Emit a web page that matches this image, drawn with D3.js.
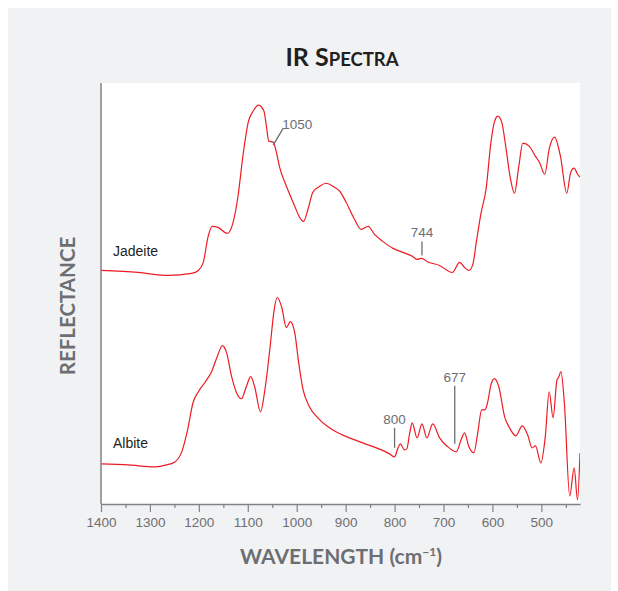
<!DOCTYPE html>
<html>
<head>
<meta charset="utf-8">
<script src="https://cdn.jsdelivr.net/npm/d3@7/dist/d3.min.js"></script>
<style>
  html, body { margin: 0; padding: 0; background: #fff; }
  svg { display: block; }
</style>
</head>
<body>
<svg id="chart" width="618" height="591"></svg>
<script>
// wavenumbers (cm-1) and reflectance (arbitrary units)
var jadeiteWave = [1400, 1324, 1263, 1215, 1201, 1191, 1181, 1173, 1161, 1142, 1130, 1120, 1110, 1099, 1089, 1078, 1067, 1062, 1057, 1048, 1042, 1035, 1021, 1004, 994, 986, 977, 967, 953, 940, 923, 912, 899, 882, 868, 854, 841, 824, 803, 783, 763, 754, 744, 734, 708, 682, 667, 657, 648, 640, 633, 623, 613, 603, 596, 589, 581, 572, 563, 555, 546, 538, 525, 511, 504, 493, 484, 473, 461, 448, 440, 433, 426, 421];
var jadeiteRefl = [23.3, 23.1, 22.8, 23.0, 23.3, 24.1, 26.7, 27.7, 27.6, 27.0, 28.1, 30.7, 34.7, 38.1, 39.2, 39.8, 39.2, 37.7, 36.2, 36.1, 35.2, 33.6, 31.7, 29.7, 28.6, 28.2, 29.4, 31.1, 31.7, 32.0, 31.6, 31.2, 30.1, 28.4, 27.4, 27.7, 26.9, 26.2, 25.5, 25.1, 24.7, 24.4, 24.5, 24.2, 23.8, 23.1, 24.1, 23.6, 23.3, 23.9, 26.1, 29.1, 31.4, 36.1, 38.1, 38.7, 38.1, 35.4, 32.4, 31.0, 33.7, 36.0, 35.7, 34.6, 34.1, 32.9, 35.4, 36.6, 34.7, 31.0, 33.1, 33.5, 32.9, 32.6];

var albiteWave = [1400, 1344, 1290, 1266, 1249, 1235, 1223, 1212, 1201, 1188, 1174, 1161, 1152, 1144, 1133, 1123, 1113, 1103, 1094, 1086, 1074, 1065, 1055, 1046, 1040, 1031, 1021, 1013, 1004, 996, 987, 974, 957, 936, 916, 902, 871, 827, 810, 800, 793, 788, 780, 775, 769, 764, 754, 744, 734, 722, 708, 691, 674, 664, 657, 648, 638, 630, 622, 615, 610, 603, 596, 587, 575, 565, 552, 539, 528, 519, 512, 501, 492, 484, 476, 468, 465, 460, 453, 442, 433, 426, 421];
var albiteRefl = [4.0, 3.9, 3.7, 3.9, 4.2, 5.2, 7.4, 10.1, 11.2, 12.1, 13.2, 14.9, 15.8, 15.2, 12.7, 11.1, 10.5, 11.7, 12.7, 11.7, 9.2, 11.4, 15.4, 19.4, 20.6, 19.7, 17.6, 18.2, 17.1, 14.1, 11.4, 9.7, 8.6, 7.7, 7.1, 6.8, 6.2, 5.4, 5.0, 4.7, 5.6, 6.0, 5.4, 5.5, 7.1, 8.1, 6.6, 8.0, 6.6, 8.0, 6.6, 5.7, 5.2, 6.4, 7.1, 5.7, 5.1, 7.1, 9.4, 9.4, 10.1, 11.9, 12.5, 11.7, 8.7, 7.6, 6.8, 7.8, 6.9, 5.6, 5.8, 4.1, 6.7, 11.2, 8.6, 12.4, 12.6, 13.2, 10.1, 0.8, 3.6, 0.4, 5.1];

var tickWaves = [1400, 1300, 1200, 1100, 1000, 900, 800, 700, 600, 500];
var minorWaves = [1350, 1250, 1150, 1050, 950, 850, 750, 650, 550, 450];

// peak markers
var markWave = [1050, 744, 800, 677];
var markLabel = ["1050", "744", "800", "677"];

var svg = d3.select("#chart");

var margin = {top: 83, right: 38, bottom: 87, left: 101},
    width = 618 - margin.left - margin.right,
    height = 591 - margin.top - margin.bottom;

var labelFont = "'Liberation Sans', Arial, sans-serif";
var headFont = "Lato, 'Open Sans', sans-serif";

// grey panel
svg.append("rect")
    .attr("x", 8).attr("y", 8)
    .attr("width", 603).attr("height", 583)
    .attr("fill", "#f1f2f4");

var g = svg.append("g")
    .attr("transform", "translate(" + margin.left + "," + margin.top + ")");

g.append("rect")
    .attr("width", width).attr("height", height)
    .attr("fill", "#fff");

var x = d3.scaleLinear().domain([1400, 421]).range([0, width]);
var y = d3.scaleLinear().domain([0, 42]).range([height, 0]);

var line = d3.line()
    .x(function(d) { return x(d[0]); })
    .y(function(d) { return y(d[1]); })
    .curve(d3.curveMonotoneX);

var jadeite = d3.zip(jadeiteWave, jadeiteRefl);
var albite = d3.zip(albiteWave, albiteRefl);

g.append("clipPath").attr("id", "clip")
  .append("rect").attr("width", width).attr("height", height + 2).attr("y", -2);

[jadeite, albite].forEach(function(s) {
  g.append("path")
      .datum(s)
      .attr("clip-path", "url(#clip)")
      .attr("fill", "none")
      .attr("stroke", "#ed1c24")
      .attr("stroke-width", 1.2)
      .attr("stroke-linejoin", "round")
      .attr("d", line);
});

// axes
var xAxis = g.append("g")
    .attr("transform", "translate(0," + height + ")")
    .call(d3.axisBottom(x).tickValues(tickWaves).tickSize(8).tickSizeOuter(0).tickFormat(d3.format("d")));

xAxis.selectAll(".tick text")
    .attr("y", 13)
    .attr("fill", "#6d6e71")
    .style("font-family", labelFont)
    .style("font-size", "13.5px");

g.append("g")
    .attr("transform", "translate(0," + height + ")")
    .call(d3.axisBottom(x).tickValues(minorWaves).tickSize(4).tickSizeOuter(0).tickFormat(""))
    .select(".domain").remove();

g.selectAll(".tick line").attr("stroke", "#808285").attr("stroke-width", 1.2);
xAxis.select(".domain").attr("stroke", "#808285").attr("stroke-width", 1.5);

g.append("line")
    .attr("x1", 0).attr("x2", 0)
    .attr("y1", 0).attr("y2", height)
    .attr("stroke", "#808285")
    .attr("stroke-width", 1.5);

// series names
g.append("text").attr("x", 12).attr("y", y(23.3) - 14)
    .attr("fill", "#231f20").style("font-family", labelFont).style("font-size", "14px")
    .text("Jadeite");
g.append("text").attr("x", 12).attr("y", y(4.0) - 16)
    .attr("fill", "#231f20").style("font-family", labelFont).style("font-size", "14px")
    .text("Albite");

// peak annotations
var markFill = "#6d6e71";

// 1050 on jadeite: slanted leader
g.append("line")
    .attr("x1", x(markWave[0]) + 1).attr("y1", y(35.8))
    .attr("x2", x(markWave[0]) + 11).attr("y2", y(37.5))
    .attr("stroke", markFill).attr("stroke-width", 1.3);
g.append("text")
    .attr("x", x(markWave[0]) + 10).attr("y", y(37.4))
    .attr("fill", markFill).style("font-family", labelFont).style("font-size", "13.5px")
    .text(markLabel[0]);

// vertical markers: [index, bottom, top]
[[1, 24.8, 26.2], [2, 5.6, 7.6], [3, 6.0, 11.8]].forEach(function(m) {
  var w = markWave[m[0]];
  g.append("line")
      .attr("x1", x(w)).attr("x2", x(w))
      .attr("y1", y(m[1])).attr("y2", y(m[2]))
      .attr("stroke", markFill).attr("stroke-width", 1.3);
  g.append("text")
      .attr("x", x(w)).attr("y", y(m[2]) - 4)
      .attr("text-anchor", "middle")
      .attr("fill", markFill).style("font-family", labelFont).style("font-size", "13.5px")
      .text(markLabel[m[0]]);
});

// title
var title = svg.append("text")
    .attr("x", 342).attr("y", 66)
    .attr("text-anchor", "middle")
    .attr("fill", "#231f20")
    .style("font-family", headFont)
    .style("font-weight", "bold");
title.append("tspan").style("font-size", "25px").text("IR S");
title.append("tspan").style("font-size", "18.5px").text("PECTRA");

// axis titles
var xt = svg.append("text")
    .attr("x", 341).attr("y", 564)
    .attr("text-anchor", "middle")
    .attr("fill", "#6d6e71")
    .style("font-family", headFont)
    .style("font-weight", "bold")
    .style("font-size", "21px");
xt.append("tspan").text("WAVELENGTH (cm");
xt.append("tspan").attr("dy", -8).style("font-size", "12px").text("\u2212" + "1");
xt.append("tspan").attr("dy", 8).text(")");

svg.append("text")
    .attr("transform", "translate(75,306) rotate(-90)")
    .attr("text-anchor", "middle")
    .attr("fill", "#6d6e71")
    .style("font-family", headFont)
    .style("font-weight", "bold")
    .style("font-size", "20.5px")
    .text("REFLECTANCE");
</script>
</body>
</html>
